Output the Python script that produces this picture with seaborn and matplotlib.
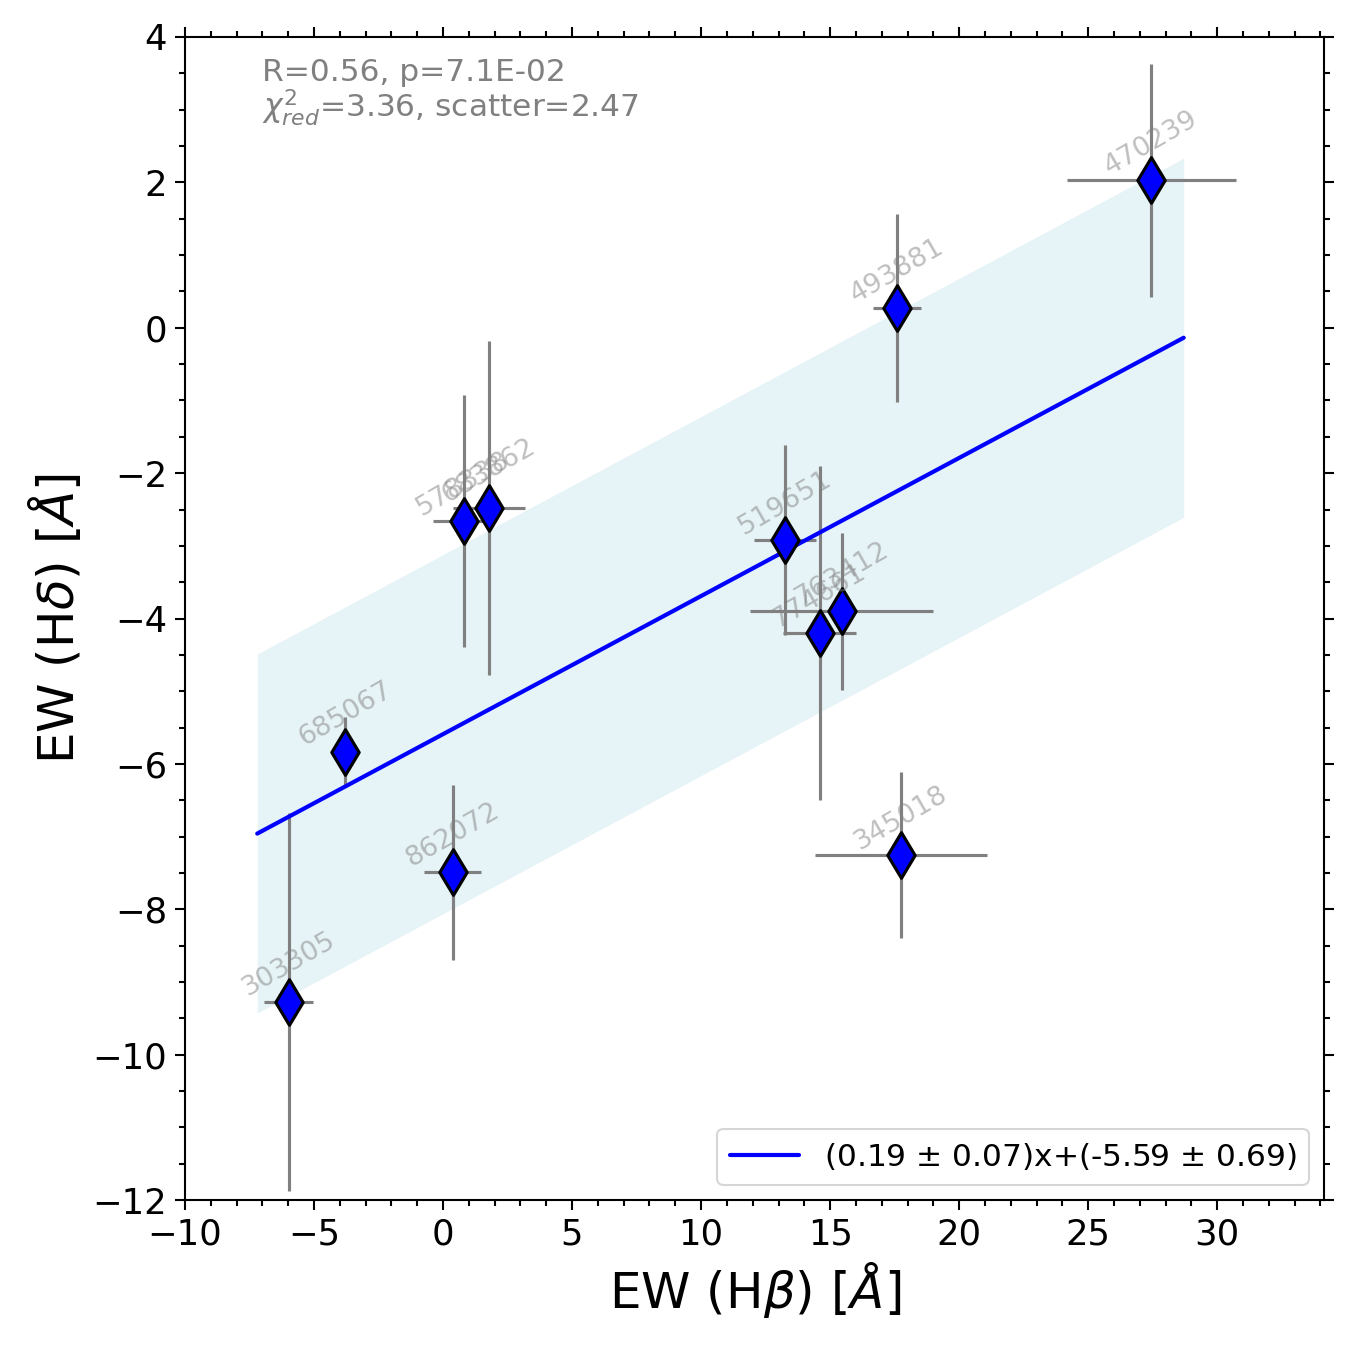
import numpy as np
import pandas as pd
import seaborn as sns
import matplotlib.pyplot as plt

# EW measurements (Angstrom)
ids = ['303305', '685067', '862072', '578338', '683862', '519651',
       '774661', '763412', '493881', '345018', '470239']
ew_hb = [-5.97, -3.8, 0.38, 0.8, 1.77, 13.24, 14.59, 15.45, 17.58, 17.73, 27.45]
ew_hb_err = [0.95, 0.1, 1.1, 1.2, 1.4, 1.2, 1.4, 3.55, 0.93, 3.33, 3.27]
ew_hd = [-9.27, -5.83, -7.49, -2.66, -2.48, -2.92, -4.2, -3.9, 0.27, -7.25, 2.03]
ew_hd_err = [2.6, 0.47, 1.2, 1.73, 2.3, 1.31, 2.3, 1.08, 1.29, 1.14, 1.6]

# linear fit results
slope, slope_err = 0.19, 0.07
icept, icept_err = -5.59, 0.69
scatter = 2.47
fit_xrange = [-7.2, 28.7]

df = pd.DataFrame({'id': ids, 'hb': ew_hb, 'hb_err': ew_hb_err,
                   'hd': ew_hd, 'hd_err': ew_hd_err})

sns.set_style('ticks')
plt.rcParams['font.family'] = ['DejaVu Sans']
plt.rcParams['text.color'] = 'black'
plt.rcParams['axes.labelcolor'] = 'black'
plt.rcParams['xtick.color'] = 'black'
plt.rcParams['ytick.color'] = 'black'

fig = plt.figure(figsize=(9, 9), dpi=150)
ax = fig.add_axes([0.137, 0.111, 0.844, 0.8616])

xfit = np.linspace(fit_xrange[0], fit_xrange[1], 50)
yfit = slope * xfit + icept
ax.fill_between(xfit, yfit - scatter, yfit + scatter, color='lightblue',
                alpha=0.3, lw=0, zorder=1)
sns.lineplot(x=xfit, y=yfit, color='blue', lw=2, ax=ax, zorder=3,
             label=f'({slope:.2f} $\\pm$ {slope_err:.2f})x+({icept:.2f} $\\pm$ {icept_err:.2f})')

ax.errorbar(df.hb, df.hd, xerr=df.hb_err, yerr=df.hd_err, fmt='none',
            ecolor='gray', elinewidth=1.5, zorder=2)
sns.scatterplot(data=df, x='hb', y='hd', marker='d', s=240, color='blue',
                edgecolor='black', linewidth=1.5, ax=ax, zorder=4, legend=False)

for _, r in df.iterrows():
    ax.text(r.hb, r.hd, r.id, rotation=30, ha='center', va='bottom',
            fontsize=13, color='gray', alpha=0.5, zorder=5)

ax.text(0.068, 0.982, 'R=0.56, p=7.1E-02\n$\\chi^2_{red}$=3.36, scatter=2.47',
        transform=ax.transAxes, ha='left', va='top', fontsize=15,
        color='gray', linespacing=1.0)

ax.set_xlim(-10, 34.15)
ax.set_ylim(-12, 4)
ax.set_xlabel('EW (H$\\beta$) [$\\AA$]', fontsize=24)
ax.set_ylabel('EW (H$\\delta$) [$\\AA$]', fontsize=24)
ax.minorticks_on()
ax.tick_params(which='both', direction='out', top=True, right=True, labelsize=17)
ax.tick_params(which='major', length=5, width=1)
ax.tick_params(which='minor', length=3, width=1)
for s in ax.spines.values():
    s.set_color('black')
    s.set_linewidth(1)

ax.legend(loc='lower right', fontsize=15, handlelength=2.2)

plt.savefig('out.png', dpi=150)
